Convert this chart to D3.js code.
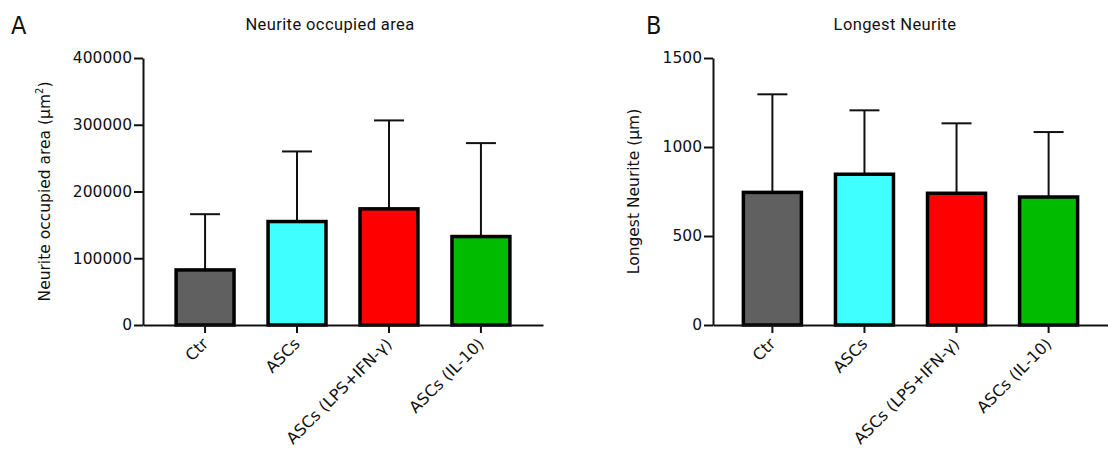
<!DOCTYPE html>
<html>
<head>
<meta charset="utf-8">
<script src="https://cdn.jsdelivr.net/npm/d3@7"></script>
<style>
  body { margin: 0; background: #fff; }
  svg text { font-family: "DejaVu Sans", sans-serif; fill: #111; }
  .axis path, .axis line { stroke: #111; stroke-width: 2; }
</style>
</head>
<body>
<svg id="chart" width="1108" height="450"></svg>
<script>
// data
const categories = ["Ctr", "ASCs", "ASCs (LPS+IFN-γ)", "ASCs (IL-10)"];
const barColors = ["#606060", "#40ffff", "#ff0000", "#00bb00"];

const areaMean = [82500, 155000, 174000, 132500];
const areaSD = [83500, 105000, 132500, 140000];
const areaTicks = [0, 100000, 200000, 300000, 400000];

const neuriteMean = [745, 847, 740, 719];
const neuriteSD = [551, 359, 393, 365];
const neuriteTicks = [0, 500, 1000, 1500];

const svg = d3.select("#chart");

function drawPanel(opts) {
  const { letter, letterX, title, titleX, yLabel, yLabelX, x0, x1, padOuter, mean, sd, ticks } = opts;
  const top = 58, bottom = 325;

  const xScale = d3.scaleBand()
    .domain(categories)
    .range([x0, x1])
    .paddingInner(0.37)
    .paddingOuter(padOuter);

  const yScale = d3.scaleLinear()
    .domain([0, d3.max(ticks)])
    .range([bottom, top]);

  const g = svg.append("g");

  // panel letter + title
  g.append("text")
    .attr("x", letterX).attr("y", 34)
    .style("font-size", "25px")
    .style("font-family", "'Liberation Sans Narrow', 'DejaVu Sans Condensed', sans-serif")
    .text(letter);

  g.append("text")
    .attr("x", titleX).attr("y", 30)
    .attr("text-anchor", "middle")
    .style("font-family", "Roboto, sans-serif")
    .style("font-size", "16.5px")
    .style("letter-spacing", "0.4px")
    .text(title);

  const rows = categories.map((c, i) => ({ cat: c, mean: mean[i], sd: sd[i], color: barColors[i] }));
  const bw = xScale.bandwidth();

  // error bars (upper only), behind bars
  g.selectAll(".err")
    .data(rows)
    .join("line")
    .attr("class", "err")
    .attr("x1", (d) => xScale(d.cat) + bw / 2)
    .attr("x2", (d) => xScale(d.cat) + bw / 2)
    .attr("y1", (d) => yScale(d.mean))
    .attr("y2", (d) => yScale(d.mean + d.sd))
    .attr("stroke", "#111")
    .attr("stroke-width", 2);

  g.selectAll(".cap")
    .data(rows)
    .join("line")
    .attr("class", "cap")
    .attr("x1", (d) => xScale(d.cat) + bw / 2 - 15)
    .attr("x2", (d) => xScale(d.cat) + bw / 2 + 15)
    .attr("y1", (d) => yScale(d.mean + d.sd))
    .attr("y2", (d) => yScale(d.mean + d.sd))
    .attr("stroke", "#111")
    .attr("stroke-width", 2);

  g.selectAll(".bar")
    .data(rows)
    .join("rect")
    .attr("class", "bar")
    .attr("x", (d) => xScale(d.cat))
    .attr("width", bw)
    .attr("y", (d) => yScale(d.mean))
    .attr("height", (d) => bottom - yScale(d.mean))
    .attr("fill", (d) => d.color)
    .attr("stroke", "#000")
    .attr("stroke-width", 3.5);

  // axes
  const yAxis = d3.axisLeft(yScale).tickValues(ticks).tickFormat(d3.format("d"))
    .tickSize(9).tickSizeOuter(0).tickPadding(2);
  g.append("g")
    .attr("class", "axis")
    .attr("transform", `translate(${x0}, 0)`)
    .call(yAxis)
    .call((a) => a.selectAll("text").style("font-size", "15.5px"));

  const xAxis = d3.axisBottom(xScale).tickSize(8).tickSizeOuter(0);
  g.append("g")
    .attr("class", "axis")
    .attr("transform", `translate(0, ${bottom})`)
    .call(xAxis)
    .call((a) => a.selectAll("text")
      .style("font-size", "16px")
      .attr("text-anchor", "end")
      .attr("x", 0)
      .attr("y", 0)
      .attr("dy", "0.35em")
      .attr("transform", "translate(0, 16) rotate(-45)"));

  // y label
  g.append("text")
    .attr("transform", `translate(${yLabelX}, ${(top + bottom) / 2}) rotate(-90)`)
    .attr("text-anchor", "middle")
    .style("font-size", "15.5px")
    .html(yLabel);
}

drawPanel({
  letter: "A", letterX: 11,
  title: "Neurite occupied area", titleX: 330,
  yLabel: 'Neurite occupied area (µm<tspan dy="-7" font-size="10px">2</tspan><tspan dy="7">)</tspan>',
  yLabelX: 50,
  x0: 143, x1: 543, padOuter: 0.36,
  mean: areaMean, sd: areaSD, ticks: areaTicks,
});

drawPanel({
  letter: "B", letterX: 646,
  title: "Longest Neurite", titleX: 895,
  yLabel: "Longest Neurite (µm)",
  yLabelX: 639,
  x0: 713, x1: 1108, padOuter: 0.33,
  mean: neuriteMean, sd: neuriteSD, ticks: neuriteTicks,
});
</script>
</body>
</html>
